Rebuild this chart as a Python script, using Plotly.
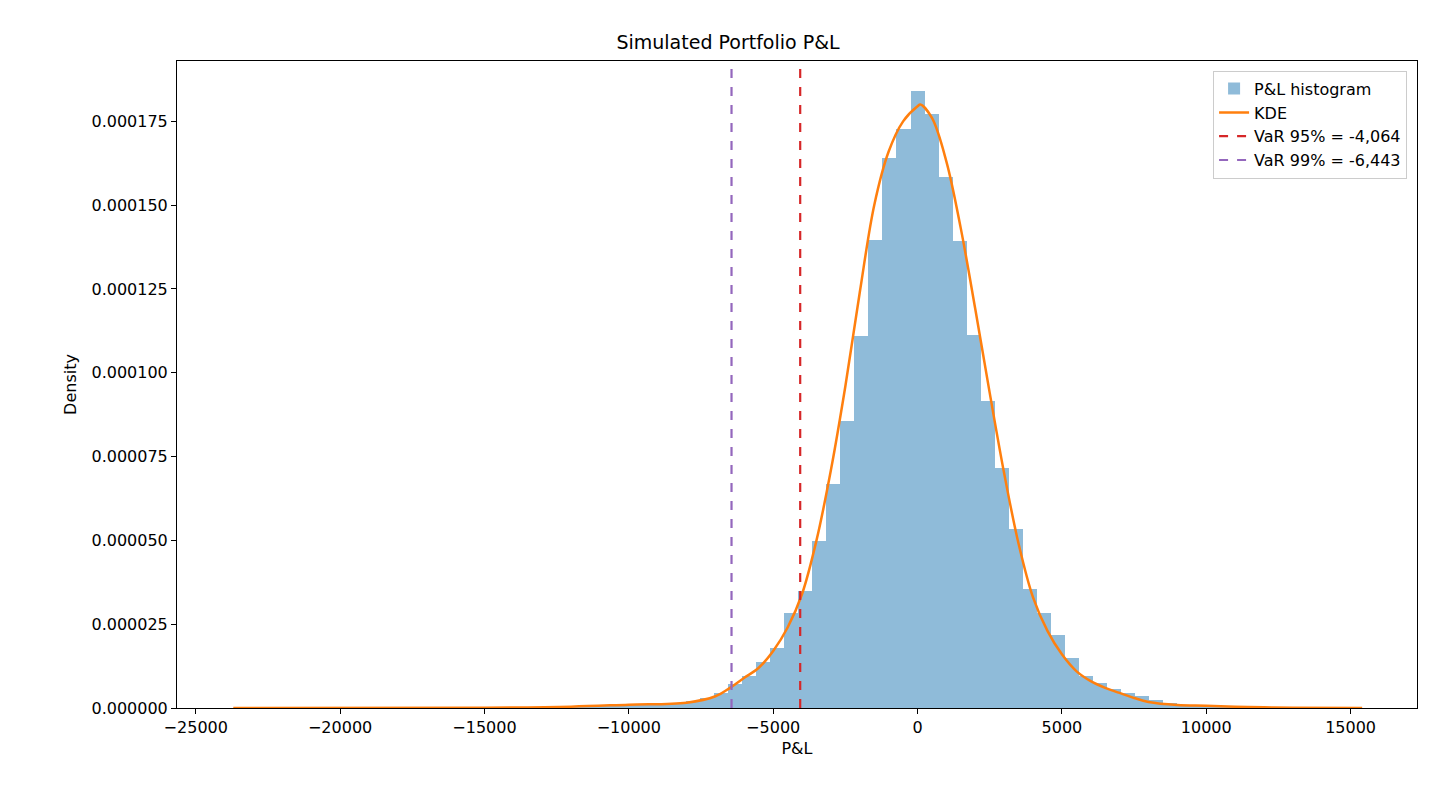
import plotly.graph_objects as go

BIN_WIDTH = 486

# histogram: bin index (center = k * BIN_WIDTH) and density
bin_index = list(range(-48, 32))
hist_density = [
    0.02e-6, 0.02e-6, 0.02e-6, 0.02e-6, 0.02e-6, 0.02e-6, 0.03e-6, 0.03e-6, 0.03e-6, 0.04e-6,
    0.04e-6, 0.05e-6, 0.05e-6, 0.06e-6, 0.07e-6, 0.08e-6, 0.1e-6, 0.12e-6, 0.15e-6, 0.2e-6,
    0.25e-6, 0.3e-6, 0.35e-6, 0.4e-6, 0.5e-6, 0.6e-6, 0.8e-6, 1.0e-6, 1.1e-6, 1.2e-6,
    1.3e-6, 1.5e-6, 2.0e-6, 3.0e-6, 4.5e-6,
    7.3e-6, 9.6e-6, 13.6e-6, 17.8e-6, 28.4e-6, 35.0e-6, 49.7e-6, 66.9e-6, 85.7e-6,
    111.0e-6, 139.6e-6, 164.0e-6, 172.8e-6, 184.2e-6, 177.3e-6, 158.5e-6, 139.2e-6,
    111.4e-6, 91.7e-6, 71.6e-6, 53.3e-6, 35.6e-6, 28.4e-6, 21.8e-6, 14.8e-6, 9.6e-6,
    7.6e-6, 5.8e-6, 4.5e-6, 3.5e-6, 2.5e-6, 1.6e-6, 1.0e-6, 0.7e-6, 0.5e-6, 0.4e-6,
    0.3e-6, 0.2e-6, 0.15e-6, 0.1e-6, 0.08e-6, 0.05e-6, 0.04e-6, 0.03e-6, 0.02e-6,
]
bin_centers = [k * BIN_WIDTH for k in bin_index]

# kernel density estimate
kde_x = [-23700, -15000, -12000, -10000, -8000, -7000, -6500, -6000, -5500, -5000,
         -4500, -4000, -3500, -3000, -2500, -2000, -1500, -1000, -500, 0, 100, 500,
         1000, 1500, 2000, 2500, 3000, 3500, 4000, 4500, 5000, 5500, 6000, 6500,
         7000, 7500, 8000, 9000, 10000, 11000, 12000, 13000, 15400]
kde_y = [0, 0.1e-6, 0.4e-6, 1.0e-6, 1.6e-6, 3.5e-6, 6e-6, 9e-6, 12e-6, 17e-6,
         24e-6, 34e-6, 50e-6, 71e-6, 96e-6, 124e-6, 150e-6, 166e-6, 175e-6, 179.5e-6,
         180e-6, 176e-6, 163e-6, 143e-6, 119e-6, 94e-6, 70e-6, 49e-6, 33e-6, 23e-6,
         16e-6, 11e-6, 8e-6, 6e-6, 4.5e-6, 3e-6, 1.8e-6, 0.9e-6, 0.7e-6, 0.4e-6,
         0.2e-6, 0.1e-6, 0]

var95 = -4064
var99 = -6443
y_top = 0.000193

fig = go.Figure()
fig.add_trace(go.Bar(x=bin_centers, y=hist_density, width=BIN_WIDTH,
                     marker=dict(color="rgba(31,119,180,0.5)", line=dict(width=0)),
                     name="P&L histogram"))
fig.add_trace(go.Scatter(x=kde_x, y=kde_y, mode="lines", line=dict(color="#ff7f0e", width=2.5, shape="spline"),
                         name="KDE"))
fig.add_trace(go.Scatter(x=[var95, var95], y=[0, y_top], mode="lines",
                         line=dict(color="#d62728", width=2.2, dash="dash"),
                         name=f"VaR 95% = {var95:,}"))
fig.add_trace(go.Scatter(x=[var99, var99], y=[0, y_top], mode="lines",
                         line=dict(color="#9467bd", width=2.2, dash="dash"),
                         name=f"VaR 99% = {var99:,}"))

axis_style = dict(showline=True, linecolor="black", linewidth=1, mirror=True, ticks="outside",
                  ticklen=5, tickcolor="black", showgrid=False, zeroline=False,
                  tickfont=dict(size=16, color="black"))

fig.update_layout(
    width=1440, height=800, bargap=0,
    paper_bgcolor="white", plot_bgcolor="white",
    font=dict(family="DejaVu Sans", color="black"),
    title=dict(text="Simulated Portfolio P&L", x=0.5, xanchor="center", y=0.965, font=dict(size=19)),
    margin=dict(l=169, r=31, t=53, b=100),
    legend=dict(x=0.992, y=0.985, xanchor="right", yanchor="top", bordercolor="#cccccc",
                borderwidth=1, font=dict(size=16)),
    xaxis=dict(axis_style, range=[-25650, 17300], tickvals=[-25000, -20000, -15000, -10000, -5000, 0, 5000, 10000, 15000],
               ticktext=["\u221225000", "\u221220000", "\u221215000", "\u221210000", "\u22125000", "0", "5000", "10000", "15000"],
               title=dict(text="P&L", font=dict(size=16), standoff=6)),
    yaxis=dict(axis_style, range=[0, y_top], tickvals=[0, 0.000025, 0.00005, 0.000075, 0.0001, 0.000125, 0.00015, 0.000175],
               tickformat=".6f", title=dict(text="Density", font=dict(size=16), standoff=10)),
)

fig.write_html("out.html")
